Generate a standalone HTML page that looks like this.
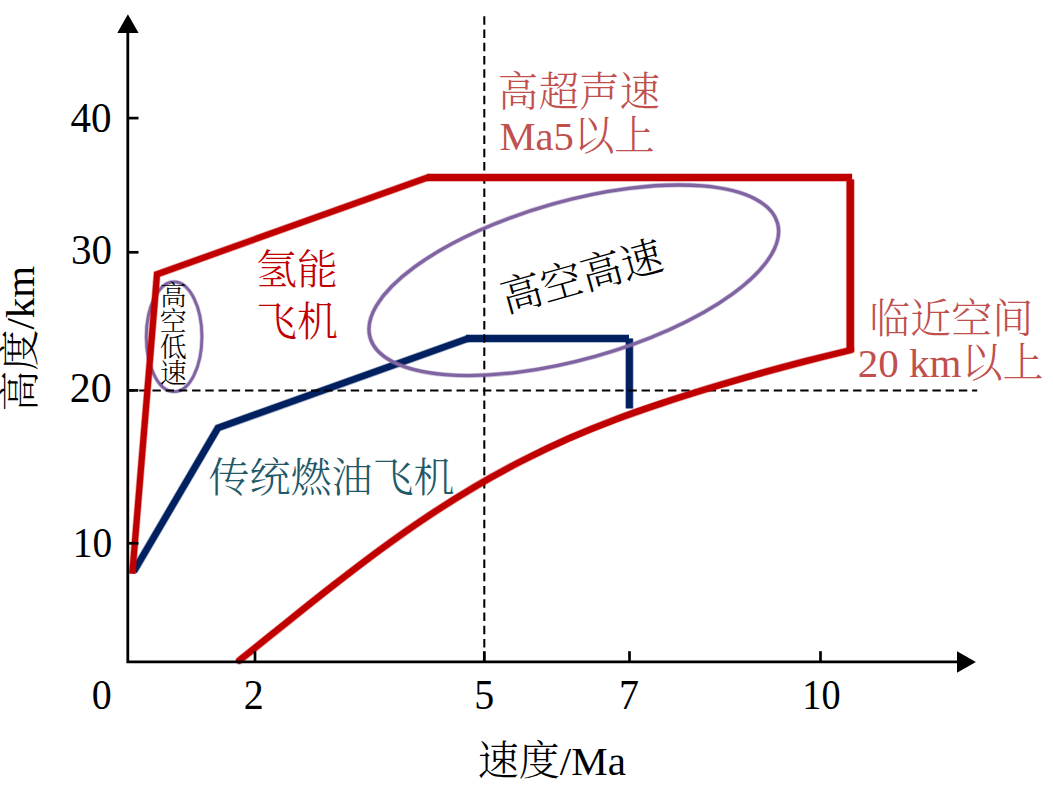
<!DOCTYPE html>
<html lang="zh-CN">
<head>
<meta charset="utf-8">
<title>高度-速度 飞行包线</title>
<style>
  html, body { margin: 0; padding: 0; background: #ffffff; }
  body { width: 1053px; height: 792px; overflow: hidden; }
  svg { display: block; }
  text { font-family: "Liberation Serif", "Noto Serif CJK SC", serif; font-size: 41px; font-weight: 300; }
  .num text { font-size: 43px; fill: #000; }
  .red { fill: #c00000; }
  .acc { fill: #c0504d; }
  .teal { fill: #215968; }
  .small text { font-size: 27px; fill: #000; }
</style>
</head>
<body>
<svg width="1053" height="792" viewBox="0 0 1053 792">
  <rect x="0" y="0" width="1053" height="792" fill="#ffffff"/>

  <!-- small purple ellipse (lowest layer) -->
  <g>
    <ellipse cx="174.1" cy="336.8" rx="27.8" ry="54.9" stroke="#8064a2" stroke-width="4.30" stroke-opacity="0.38" fill="none"/>
    <ellipse cx="174.1" cy="336.8" rx="27.8" ry="54.9" stroke="#8064a2" stroke-width="2.80" fill="none"/>
  </g>

  <!-- blue envelope (conventional fuel aircraft) -->
  <g stroke-linejoin="miter">
    <path d="M133.8 571.4 L217.9 428 L468 338.5" stroke="#002060" stroke-width="8.10" stroke-opacity="0.38" fill="none"/>
    <path d="M133.8 571.4 L217.9 428 L468 338.5" stroke="#002060" stroke-width="6.60" fill="none"/>
    <path d="M466 338.4 L629 338.4" stroke="#002060" stroke-width="8.50" stroke-opacity="0.38" fill="none"/>
    <path d="M466 338.4 L629 338.4" stroke="#002060" stroke-width="7.00" fill="none"/>
    <path d="M629.4 338.5 L629.4 408.4" stroke="#002060" stroke-width="8.40" stroke-opacity="0.38" fill="none"/>
    <path d="M629.4 338.5 L629.4 408.4" stroke="#002060" stroke-width="6.90" fill="none"/>
  </g>

  <!-- dashed guide lines -->
  <g stroke="#000" stroke-width="2.05" fill="none">
    <line x1="484.3" y1="16.3" x2="484.3" y2="661" stroke-dasharray="8.4 4.85"/>
    <line x1="129.6" y1="390.4" x2="977.2" y2="390.4" stroke-dasharray="8.4 4.82" stroke-dashoffset="3.6"/>
  </g>

  <!-- big purple ellipse -->
  <g>
    <ellipse cx="573.8" cy="280.3" rx="211.6" ry="79.1" transform="rotate(-15.7 573.8 280.3)" stroke="#8064a2" stroke-width="4.80" stroke-opacity="0.38" fill="none"/>
    <ellipse cx="573.8" cy="280.3" rx="211.6" ry="79.1" transform="rotate(-15.7 573.8 280.3)" stroke="#8064a2" stroke-width="3.30" fill="none"/>
  </g>

  <!-- red envelope (hydrogen aircraft) -->
  <g stroke-linejoin="miter">
    <path d="M132.3 573.8 L157 274.3 L428 177.3" stroke="#c00000" stroke-width="7.60" stroke-opacity="0.38" fill="none"/>
    <path d="M132.3 573.8 L157 274.3 L428 177.3" stroke="#c00000" stroke-width="6.10" fill="none"/>
    <path d="M427 177.5 L852.1 177.5" stroke="#c00000" stroke-width="8.60" stroke-opacity="0.38" fill="none"/>
    <path d="M427 177.5 L852.1 177.5" stroke="#c00000" stroke-width="7.10" fill="none"/>
    <path d="M850.3 179.5 L850.3 349" stroke="#c00000" stroke-width="8.80" stroke-opacity="0.38" fill="none"/>
    <path d="M850.3 179.5 L850.3 349" stroke="#c00000" stroke-width="7.30" fill="none"/>
    <path d="M239.2 660.6 C247.0 654.3 270.6 635.3 286.3 622.8 C301.9 610.2 317.6 597.6 333.3 585.4 C349.0 573.2 364.7 561.1 380.4 549.6 C396.1 538.1 411.8 527.0 427.4 516.6 C443.1 506.2 458.8 496.3 474.5 487.0 C490.2 477.7 505.9 469.1 521.6 461.0 C537.3 453.0 552.9 445.5 568.6 438.5 C584.3 431.6 600.0 425.3 615.7 419.4 C631.4 413.5 647.1 408.1 662.8 402.9 C678.4 397.7 694.1 392.8 709.8 388.0 C725.5 383.3 741.2 378.7 756.9 374.3 C772.6 369.9 788.3 365.7 803.9 361.6 C819.6 357.6 843.2 351.9 851.0 350.0" stroke="#c00000" stroke-width="7.90" stroke-opacity="0.38" fill="none" stroke-linecap="round"/>
    <path d="M239.2 660.6 C247.0 654.3 270.6 635.3 286.3 622.8 C301.9 610.2 317.6 597.6 333.3 585.4 C349.0 573.2 364.7 561.1 380.4 549.6 C396.1 538.1 411.8 527.0 427.4 516.6 C443.1 506.2 458.8 496.3 474.5 487.0 C490.2 477.7 505.9 469.1 521.6 461.0 C537.3 453.0 552.9 445.5 568.6 438.5 C584.3 431.6 600.0 425.3 615.7 419.4 C631.4 413.5 647.1 408.1 662.8 402.9 C678.4 397.7 694.1 392.8 709.8 388.0 C725.5 383.3 741.2 378.7 756.9 374.3 C772.6 369.9 788.3 365.7 803.9 361.6 C819.6 357.6 843.2 351.9 851.0 350.0" stroke="#c00000" stroke-width="6.40" fill="none" stroke-linecap="round"/>
  </g>

  <!-- axes -->
  <g stroke="#000" stroke-width="2.8" fill="none">
    <path d="M127.8 30 L127.8 661.9 L960 661.9" stroke-linejoin="miter"/>
  </g>
  <g stroke="#000" stroke-width="2.7" fill="none">
    <!-- y ticks -->
    <line x1="128" y1="118.1" x2="138.5" y2="118.1"/>
    <line x1="128" y1="252.3" x2="138.5" y2="252.3"/>
    <line x1="128" y1="390.4" x2="138.3" y2="390.4"/>
    <line x1="128" y1="543.3" x2="138.5" y2="543.3"/>
    <!-- x ticks -->
    <line x1="255" y1="651.2" x2="255" y2="661.9"/>
    <line x1="484.3" y1="651.2" x2="484.3" y2="661.9"/>
    <line x1="629.5" y1="651.2" x2="629.5" y2="661.9"/>
    <line x1="820.5" y1="651.2" x2="820.5" y2="661.9"/>
  </g>
  <!-- arrow heads -->
  <polygon points="127.9,14.2 117.3,33.1 138.6,33.1" fill="#000"/>
  <polygon points="975.9,661.9 957,651.2 957,672.7" fill="#000"/>

  <!-- tick labels -->
  <g class="num" text-anchor="middle">
    <text transform="translate(91.1 132.2) scale(0.955 1)">40</text>
    <text transform="translate(91.5 264.1) scale(0.955 1)">30</text>
    <text transform="translate(90.8 402.4) scale(0.975 1)">20</text>
    <text transform="translate(92.6 557) scale(0.92 1)">10</text>
    <text transform="translate(101.8 709.3) scale(0.93 1)">0</text>
    <text transform="translate(253.8 709.3) scale(0.93 1)">2</text>
    <text transform="translate(484.3 709.3) scale(0.93 1)">5</text>
    <text transform="translate(629 709.3) scale(0.93 1)">7</text>
    <text transform="translate(821.5 709.3) scale(0.89 1)">10</text>
  </g>

  <!-- axis titles -->
  <text x="477.8" y="775" fill="#000">速度/Ma</text>
  <text transform="translate(34.3 411.6) rotate(-90)" fill="#000">高度/km</text>

  <!-- annotations -->
  <text class="acc" x="497.8" y="105.6" style="font-size:40.6px">高超声速</text>
  <text class="acc" x="499.4" y="150" style="font-size:40.6px">Ma5以上</text>

  <text class="red" x="256.1" y="283.5">氢能</text>
  <text class="red" x="256.1" y="335.7">飞机</text>

  <text class="teal" x="208.6" y="492">传统燃油飞机</text>

  <text class="acc" x="869.2" y="333.2">临近空间</text>
  <text class="acc" x="857.8" y="376.6">20 km以上</text>

  <text transform="translate(581.6 276.7) rotate(-15.7)" text-anchor="middle" y="14.5" style="font-size:41.5px" fill="#000">高空高速</text>

  <g class="small" text-anchor="middle">
    <text x="173.2" y="304.6">高</text>
    <text x="173.2" y="330.8">空</text>
    <text x="173.2" y="357">低</text>
    <text x="173.2" y="383.2">速</text>
  </g>
</svg>
</body>
</html>
